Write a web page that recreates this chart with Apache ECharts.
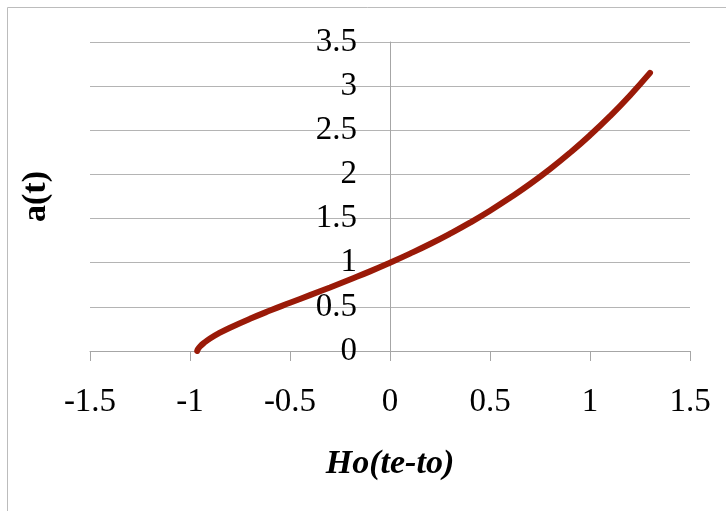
<!DOCTYPE html>
<html>
<head>
<meta charset="utf-8">
<script src="https://cdn.jsdelivr.net/npm/echarts@6/dist/echarts.min.js"></script>
<style>
html,body{margin:0;padding:0;background:#fff;}
#chart{width:726px;height:511px;}
</style>
</head>
<body>
<div id="chart"></div>
<script>
// Values
var xValues = [-0.964, -0.96, -0.95, -0.93, -0.9, -0.85, -0.8, -0.7, -0.6, -0.5, -0.4, -0.3, -0.2, -0.1, 0, 0.1, 0.2, 0.3, 0.4, 0.5, 0.6, 0.7, 0.8, 0.9, 1.0, 1.1, 1.2, 1.3];
var aValues = [0, 0.022, 0.051, 0.092, 0.141, 0.207, 0.264, 0.365, 0.458, 0.546, 0.633, 0.720, 0.810, 0.902, 1.0, 1.103, 1.212, 1.329, 1.454, 1.589, 1.735, 1.891, 2.061, 2.245, 2.444, 2.660, 2.895, 3.15];
var xTicks = [-1.5, -1, -0.5, 0, 0.5, 1, 1.5];
var yTicks = [0, 0.5, 1, 1.5, 2, 2.5, 3, 3.5];
var xTitle = 'Ho(te-to)';
var yTitle = 'a(t)';

var seriesData = xValues.map(function (x, i) { return [x, aValues[i]]; });

var gridLeft = 90, gridRight = 36, chartWidth = 726;
var xMin = xTicks[0], xMax = xTicks[xTicks.length - 1];
// y axis crosses the x axis at x = 0: shift it from the grid's left edge
var yAxisShift = (0 - xMin) / (xMax - xMin) * (chartWidth - gridLeft - gridRight);

var chart = echarts.init(document.getElementById('chart'), null, {renderer: 'canvas'});
var serif = '"Liberation Serif", "Times New Roman", serif';
chart.setOption({
  animation: false,
  backgroundColor: '#ffffff',
  graphic: [{
    type: 'rect',
    shape: {x: 7.5, y: 7.5, width: 900, height: 700},
    style: {fill: 'none', stroke: '#bcbcbc', lineWidth: 1},
    silent: true, z: -1
  }],
  grid: {left: gridLeft, right: gridRight, top: 42, bottom: 160, containLabel: false, outerBoundsMode: 'none'},
  xAxis: {
    type: 'value',
    min: xMin, max: xMax, interval: 0.5,
    name: xTitle,
    nameLocation: 'middle',
    nameGap: 96,
    nameTextStyle: {fontFamily: serif, fontSize: 34, fontWeight: 'bold', fontStyle: 'italic', color: '#000'},
    axisLine: {onZero: false, lineStyle: {color: '#a6a6a6', width: 1}},
    axisTick: {show: true, length: 10, inside: false, lineStyle: {color: '#a6a6a6'}},
    splitLine: {show: false},
    axisLabel: {fontFamily: serif, fontSize: 33, color: '#000', margin: 35,
      formatter: function (v) { return String(v); }}
  },
  yAxis: {
    type: 'value',
    min: yTicks[0], max: yTicks[yTicks.length - 1], interval: 0.5,
    offset: -yAxisShift,
    name: yTitle,
    nameLocation: 'middle',
    nameRotate: 90,
    nameGap: 337,
    nameTextStyle: {fontFamily: serif, fontSize: 34, fontWeight: 'bold', color: '#000'},
    axisLine: {show: true, onZero: false, lineStyle: {color: '#a6a6a6', width: 1}},
    axisTick: {show: false},
    splitLine: {show: true, lineStyle: {color: '#b4b4b4', width: 1}},
    axisLabel: {fontFamily: serif, fontSize: 33, color: '#000', margin: 33,
      formatter: function (v) { return String(v); }}
  },
  series: [{
    type: 'line',
    data: seriesData,
    smooth: true,
    showSymbol: false,
    lineStyle: {color: '#9a1a08', width: 6, cap: 'round'},
    z: 5
  }]
});
</script>
</body>
</html>
